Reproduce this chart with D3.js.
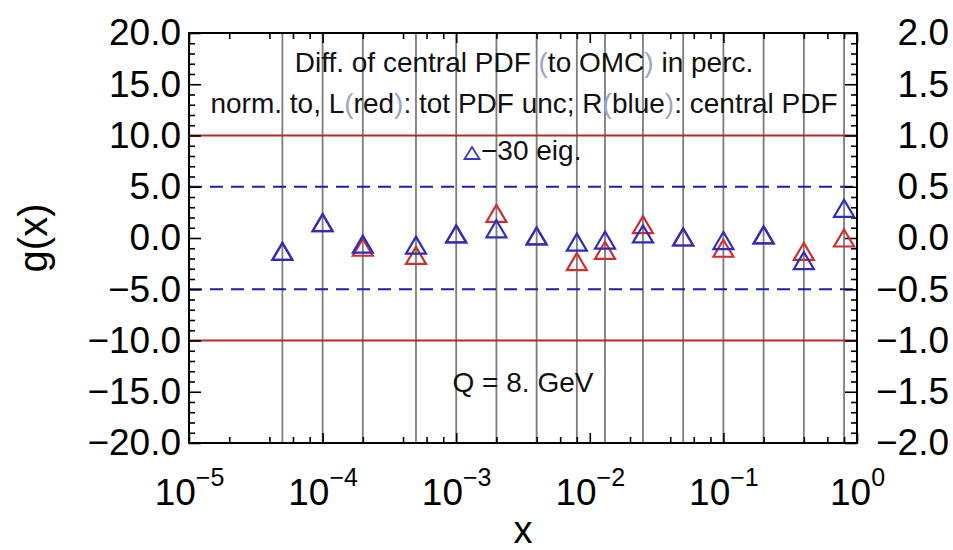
<!DOCTYPE html>
<html>
<head>
<meta charset="utf-8">
<script src="https://cdn.jsdelivr.net/npm/d3@7"></script>
<style>
    body { margin: 0; background: #fff; }
    svg text { font-family: "Liberation Sans", Arial, Helvetica, sans-serif; }
</style>
</head>
<body>
<div id="chart-area"></div>
<script>
// sample points in x (one grey grid line for each)
var xPoints = [5e-5, 1e-4, 2e-4, 5e-4, 1e-3, 2e-3, 4e-3, 8e-3, 1.3e-2, 2.5e-2, 5e-2, 0.1, 0.2, 0.4, 0.8];
// L (red): difference normalised to total PDF uncertainty, in percent
var redDiff = [-1.3, 1.5, -0.9, -1.7, 0.4, 2.4, 0.2, -2.3, -1.2, 1.3, 0.1, -1.0, 0.3, -1.3, 0.0];
// R (blue): difference normalised to the central PDF
var blueDiff = [-0.13, 0.15, -0.06, -0.07, 0.04, 0.09, 0.02, -0.04, -0.02, 0.04, 0.01, -0.025, 0.03, -0.22, 0.29];

var leftTicks = [-20, -15, -10, -5, 0, 5, 10, 15, 20];
var rightTicks = [-2, -1.5, -1, -0.5, 0, 0.5, 1, 1.5, 2];
var xDecades = [-5, -4, -3, -2, -1, 0];
var redBands = [-10, 10];     // left axis units
var blueBands = [-0.5, 0.5];  // right axis units

var titleLines = ["Diff. of central PDF (to OMC) in perc.",
    "norm. to, L(red): tot PDF unc; R(blue): central PDF"];
var legendText = "\u221230 eig.";
var scaleText = "Q = 8. GeV";

var margin = { left: 189, right: 96, top: 33, bottom: 107 };
var width = 953 - margin.left - margin.right;
var height = 550 - margin.top - margin.bottom;

var svg = d3.select("#chart-area")
    .append("svg")
    .attr("width", width + margin.left + margin.right)
    .attr("height", height + margin.top + margin.bottom);

var g = svg.append("g")
    .attr("transform", "translate(" + margin.left + "," + margin.top + ")");

var x = d3.scaleLog()
    .domain([1e-5, 1])
    .range([0, width]);

var yL = d3.scaleLinear()
    .domain([-20, 20])
    .range([height, 0]);

var yR = d3.scaleLinear()
    .domain([-2, 2])
    .range([height, 0]);

var fmt = d3.format(".1f");

// grid lines at the sample points
g.selectAll(".grid")
    .data(xPoints)
    .enter().append("line")
    .attr("class", "grid")
    .attr("x1", function (d) { return x(d); })
    .attr("x2", function (d) { return x(d); })
    .attr("y1", 0)
    .attr("y2", height)
    .attr("stroke", "#7c7c7c")
    .attr("stroke-width", 1.8);

// +-10% (red) and +-0.5 (blue dashed)
g.selectAll(".red-band")
    .data(redBands)
    .enter().append("line")
    .attr("x1", 0)
    .attr("x2", width)
    .attr("y1", function (d) { return yL(d); })
    .attr("y2", function (d) { return yL(d); })
    .attr("stroke", "#b42a2a")
    .attr("stroke-width", 2);

g.selectAll(".blue-band")
    .data(blueBands)
    .enter().append("line")
    .attr("x1", 0)
    .attr("x2", width)
    .attr("y1", function (d) { return yR(d); })
    .attr("y2", function (d) { return yR(d); })
    .attr("stroke", "#1e1eaa")
    .attr("stroke-width", 2)
    .attr("stroke-dasharray", "13,8");

// axes
function styleAxis(sel, size) {
    sel.select(".domain").remove();
    sel.selectAll(".tick line").attr("stroke", "#000").attr("stroke-width", 1.6);
    sel.attr("font-size", size).attr("fill", "#000");
    sel.selectAll("text").attr("fill", "#000");
}

var minorLeft = d3.range(-20, 21, 1).filter(function (d) { return d % 5 != 0; });
var minorRight = minorLeft.map(function (d) { return d / 10; });
var minorX = [];
xDecades.forEach(function (p) {
    [2, 4, 6, 8].forEach(function (m) {
        var v = m * Math.pow(10, p);
        if (v <= 1) minorX.push(v);
    });
});
var majorX = xDecades.map(function (p) { return Math.pow(10, p); });

// left
g.append("g")
    .call(d3.axisLeft(yL).tickValues(leftTicks).tickSize(-12).tickPadding(8).tickFormat(fmt))
    .call(styleAxis, 37);
g.append("g")
    .call(d3.axisLeft(yL).tickValues(minorLeft).tickSize(-6).tickFormat(""))
    .call(styleAxis, 10);

// right
var rightAxis = g.append("g")
    .attr("transform", "translate(" + width + ",0)")
    .call(d3.axisRight(yR).tickValues(rightTicks).tickSize(-12).tickFormat(fmt))
    .call(styleAxis, 37);
rightAxis.selectAll("text")
    .attr("x", 92)
    .attr("text-anchor", "end");
g.append("g")
    .attr("transform", "translate(" + width + ",0)")
    .call(d3.axisRight(yR).tickValues(minorRight).tickSize(-6).tickFormat(""))
    .call(styleAxis, 10);

// bottom
var bottomAxis = g.append("g")
    .attr("transform", "translate(0," + height + ")")
    .call(d3.axisBottom(x).tickValues(majorX).tickSize(-10).tickFormat(""))
    .call(styleAxis, 37);
bottomAxis.selectAll(".tick").append("text")
    .attr("y", 62)
    .attr("text-anchor", "middle")
    .attr("fill", "#000")
    .each(function (d) {
        var t = d3.select(this);
        t.append("tspan").text("10");
        t.append("tspan")
            .attr("dy", -19)
            .attr("font-size", 25)
            .text(d3.format("")(Math.round(Math.log10(d))).replace("-", "\u2212"));
    });
g.append("g")
    .attr("transform", "translate(0," + height + ")")
    .call(d3.axisBottom(x).tickValues(minorX).tickSize(-6).tickFormat(""))
    .call(styleAxis, 10);

// top
g.append("g")
    .call(d3.axisTop(x).tickValues(majorX).tickSize(-10).tickFormat(""))
    .call(styleAxis, 10);
g.append("g")
    .call(d3.axisTop(x).tickValues(minorX).tickSize(-6).tickFormat(""))
    .call(styleAxis, 10);

// frame
g.append("rect")
    .attr("width", width)
    .attr("height", height)
    .attr("fill", "none")
    .attr("stroke", "#000")
    .attr("stroke-width", 2);

// open triangle marker, centred on the point
function triangle(w, h) {
    return "M0," + (-h / 2) + "L" + (w / 2) + "," + (h / 2) + "L" + (-w / 2) + "," + (h / 2) + "Z";
}

g.selectAll(".red-pt")
    .data(xPoints)
    .enter().append("path")
    .attr("d", triangle(20, 17))
    .attr("transform", function (d, i) { return "translate(" + x(d) + "," + yL(redDiff[i]) + ")"; })
    .attr("fill", "none")
    .attr("stroke", "#cc3030")
    .attr("stroke-width", 2.2);

g.selectAll(".blue-pt")
    .data(xPoints)
    .enter().append("path")
    .attr("d", triangle(20, 17))
    .attr("transform", function (d, i) { return "translate(" + x(d) + "," + yR(blueDiff[i]) + ")"; })
    .attr("fill", "none")
    .attr("stroke", "#2c2cc0")
    .attr("stroke-width", 2.2);

// annotations (brackets drawn light, as in the original)
function addText(str, cx, by) {
    var t = g.append("text")
        .attr("x", cx)
        .attr("y", by)
        .attr("font-size", 28)
        .attr("text-anchor", "middle")
        .attr("fill", "#111");
    str.split(/([()])/).forEach(function (part) {
        if (part == "") return;
        var s = t.append("tspan").text(part);
        if (part == "(" || part == ")") s.attr("fill", "#9ba6c6");
    });
    return t;
}

addText(titleLines[0], width / 2 + 1, 39);
addText(titleLines[1], width / 2 + 1, 80);
addText(scaleText, width / 2, 359);

// legend
g.append("path")
    .attr("d", triangle(15, 12))
    .attr("transform", "translate(" + 283 + "," + 120 + ")")
    .attr("fill", "none")
    .attr("stroke", "#3a3ab8")
    .attr("stroke-width", 1.8);
g.append("text")
    .attr("x", 292)
    .attr("y", 127)
    .attr("font-size", 28)
    .attr("fill", "#111")
    .text(legendText);

// axis titles
svg.append("text")
    .attr("x", margin.left + width / 2)
    .attr("y", 543)
    .attr("font-size", 38)
    .attr("text-anchor", "middle")
    .text("x");

svg.append("text")
    .attr("transform", "translate(47," + (margin.top + height / 2) + ") rotate(-90)")
    .attr("font-size", 40)
    .attr("text-anchor", "middle")
    .text("g(x)");
</script>
</body>
</html>
